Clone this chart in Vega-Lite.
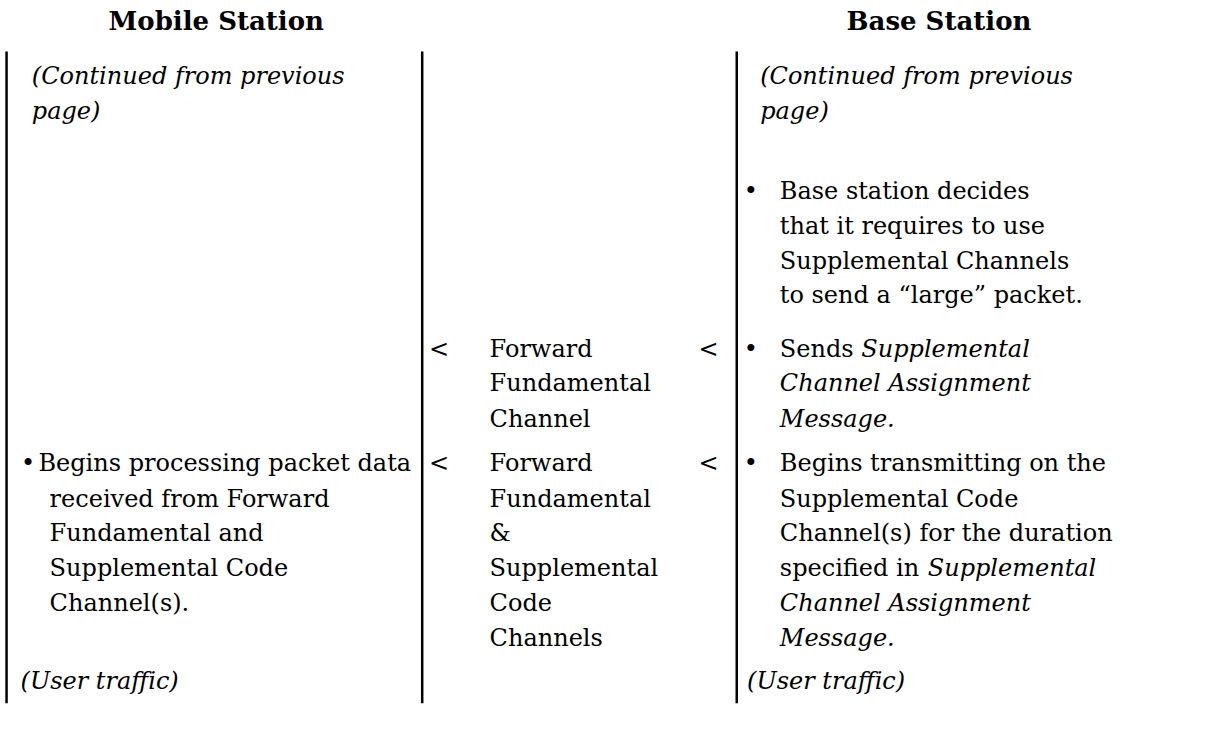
{
  "$schema": "https://vega.github.io/schema/vega-lite/v6.json",
  "width": 1217,
  "height": 750,
  "padding": 0,
  "autosize": {"type": "none"},
  "background": "white",
  "config": {"view": {"stroke": null}},
  "datasets": {
    "headers": [
      {"x": 231, "y": 23, "text": "Mobile Station"},
      {"x": 1003, "y": 23, "text": "Base Station"}
    ],
    "dividers": [
      {"x": 7, "y1": 55, "y2": 750},
      {"x": 451, "y1": 55, "y2": 750},
      {"x": 787, "y1": 55, "y2": 750}
    ],
    "symbols": [
      {"x": 30, "y": 495, "text": "•"},
      {"x": 802, "y": 205, "text": "•"},
      {"x": 802, "y": 373, "text": "•"},
      {"x": 802, "y": 495, "text": "•"},
      {"x": 469, "y": 373, "text": "<"},
      {"x": 757, "y": 373, "text": "<"},
      {"x": 469, "y": 495, "text": "<"},
      {"x": 757, "y": 495, "text": "<"}
    ],
    "normal": [
      {"x": 41, "y": 495, "text": "Begins processing packet data"},
      {"x": 53, "y": 533, "text": "received from Forward"},
      {"x": 53, "y": 570, "text": "Fundamental and"},
      {"x": 53, "y": 607, "text": "Supplemental Code"},
      {"x": 53, "y": 644, "text": "Channel(s)."},
      {"x": 523, "y": 373, "text": "Forward"},
      {"x": 523, "y": 410, "text": "Fundamental"},
      {"x": 523, "y": 448, "text": "Channel"},
      {"x": 523, "y": 495, "text": "Forward"},
      {"x": 523, "y": 533, "text": "Fundamental"},
      {"x": 523, "y": 570, "text": "&"},
      {"x": 523, "y": 607, "text": "Supplemental"},
      {"x": 523, "y": 644, "text": "Code"},
      {"x": 523, "y": 682, "text": "Channels"},
      {"x": 833, "y": 205, "text": "Base station decides"},
      {"x": 833, "y": 242, "text": "that it requires to use"},
      {"x": 833, "y": 279, "text": "Supplemental Channels"},
      {"x": 833, "y": 316, "text": "to send a “large” packet."},
      {"x": 833, "y": 373, "text": "Sends"},
      {"x": 833, "y": 495, "text": "Begins transmitting on the"},
      {"x": 833, "y": 533, "text": "Supplemental Code"},
      {"x": 833, "y": 570, "text": "Channel(s) for the duration"},
      {"x": 833, "y": 607, "text": "specified in"}
    ],
    "italic": [
      {"x": 34, "y": 82, "text": "(Continued from previous"},
      {"x": 34, "y": 119, "text": "page)"},
      {"x": 812, "y": 82, "text": "(Continued from previous"},
      {"x": 812, "y": 119, "text": "page)"},
      {"x": 22, "y": 727, "text": "(User traffic)"},
      {"x": 798, "y": 727, "text": "(User traffic)"},
      {"x": 920, "y": 373, "text": "Supplemental"},
      {"x": 833, "y": 410, "text": "Channel Assignment"},
      {"x": 833, "y": 448, "text": "Message."},
      {"x": 991, "y": 607, "text": "Supplemental"},
      {"x": 833, "y": 644, "text": "Channel Assignment"},
      {"x": 833, "y": 682, "text": "Message."}
    ]
  },
  "layer": [
    {
      "data": {"name": "dividers"},
      "mark": {"type": "rule", "color": "#000000", "strokeWidth": 2.5},
      "encoding": {
        "x": {"field": "x", "type": "quantitative", "scale": {"domain": [0, 1217]}, "axis": null},
        "y": {"field": "y1", "type": "quantitative", "scale": {"domain": [0, 750], "reverse": true}, "axis": null},
        "y2": {"field": "y2"}
      }
    },
    {
      "data": {"name": "headers"},
      "mark": {"type": "text", "font": "DejaVu Serif", "fontSize": 26, "fontWeight": "bold", "align": "center", "baseline": "middle", "color": "#000000"},
      "encoding": {
        "x": {"field": "x", "type": "quantitative"},
        "y": {"field": "y", "type": "quantitative"},
        "text": {"field": "text"}
      }
    },
    {
      "data": {"name": "symbols"},
      "mark": {"type": "text", "font": "DejaVu Serif", "fontSize": 24, "align": "center", "baseline": "middle", "color": "#000000"},
      "encoding": {
        "x": {"field": "x", "type": "quantitative"},
        "y": {"field": "y", "type": "quantitative"},
        "text": {"field": "text"}
      }
    },
    {
      "data": {"name": "normal"},
      "mark": {"type": "text", "font": "DejaVu Serif", "fontSize": 24, "align": "left", "baseline": "middle", "color": "#000000"},
      "encoding": {
        "x": {"field": "x", "type": "quantitative"},
        "y": {"field": "y", "type": "quantitative"},
        "text": {"field": "text"}
      }
    },
    {
      "data": {"name": "italic"},
      "mark": {"type": "text", "font": "DejaVu Serif", "fontSize": 24, "fontStyle": "italic", "align": "left", "baseline": "middle", "color": "#000000"},
      "encoding": {
        "x": {"field": "x", "type": "quantitative"},
        "y": {"field": "y", "type": "quantitative"},
        "text": {"field": "text"}
      }
    }
  ]
}
